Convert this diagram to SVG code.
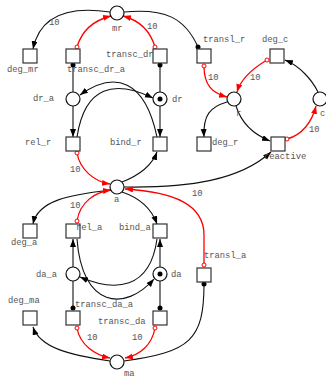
<svg xmlns="http://www.w3.org/2000/svg" width="326" height="378" viewBox="0 0 326 378">
<defs>
<style>
.pl{fill:#fff;stroke:#111;stroke-width:1.2}
.tr{fill:#fff;stroke:#333;stroke-width:1.2}
.tk{fill:#000}
.e{fill:none;stroke:#111;stroke-width:1.1}
.r{fill:none;stroke:#f00;stroke-width:1.3}
.dot{fill:#000}
.oc{fill:#fff;stroke:#f00;stroke-width:1}
text{font-family:"Liberation Mono","DejaVu Sans Mono",monospace;font-size:8.8px;fill:#555}
</style>
<marker id="ab" markerUnits="userSpaceOnUse" markerWidth="9" markerHeight="7" refX="8" refY="3" orient="auto"><path d="M0,0 L8,3 L0,6 z" fill="#000"/></marker>
<marker id="ar" markerUnits="userSpaceOnUse" markerWidth="9" markerHeight="7" refX="8" refY="3" orient="auto"><path d="M0,0 L8,3 L0,6 z" fill="#f00"/></marker>
</defs>
<g id="connectors">
<path class="e" d="M110,12 C70,6 40,15 33,49" marker-end="url(#ab)"/>
<path class="r" d="M77,47 C82,30 95,20 111,16" marker-end="url(#ar)"/>
<path class="r" d="M155,47 C150,30 138,20 123,16" marker-end="url(#ar)"/>
<path class="e" d="M124,12 C165,8 185,18 198,47"/>
<path class="e" d="M73,65 L73,92"/>
<path class="e" d="M160,65 L160,92"/>
<path class="e" d="M73,106 L73,137" marker-end="url(#ab)"/>
<path class="e" d="M160,106 L160,137" marker-end="url(#ab)"/>
<path class="e" d="M77,137 C85,85 115,80 153,98" marker-end="url(#ab)"/>
<path class="e" d="M157,137 C145,80 115,70 80,95" marker-end="url(#ab)"/>
<path class="e" d="M122,182 C140,175 152,165 157,152" marker-end="url(#ab)"/>
<path class="r" d="M77,153 C80,170 95,182 110,184" marker-end="url(#ar)"/>
<path class="e" d="M124,187 C190,188 240,180 271,152" marker-end="url(#ab)"/>
<path class="e" d="M227,102 C210,107 203,115 204,137" marker-end="url(#ab)"/>
<path class="e" d="M236,106 C242,125 255,135 270,141" marker-end="url(#ab)"/>
<path class="r" d="M204,66 C204,85 212,93 227,97" marker-end="url(#ar)"/>
<path class="r" d="M267,60 C250,70 240,82 237,92" marker-end="url(#ar)"/>
<path class="e" d="M318,92 C312,80 300,66 285,60" marker-end="url(#ab)"/>
<path class="r" d="M287,139 C302,135 312,122 316,106" marker-end="url(#ar)"/>
<path class="r" d="M204,265 L204,235 C204,205 175,192 125,189" marker-end="url(#ar)"/>
<path class="e" d="M110,190 C70,195 38,200 33,224" marker-end="url(#ab)"/>
<path class="r" d="M77,221 C80,202 95,192 111,190" marker-end="url(#ar)"/>
<path class="e" d="M122,192 C140,198 152,210 157,224" marker-end="url(#ab)"/>
<path class="e" d="M73,267 L73,239" marker-end="url(#ab)"/>
<path class="e" d="M160,267 L160,239" marker-end="url(#ab)"/>
<path class="e" d="M77,239 C82,308 125,312 154,279" marker-end="url(#ab)"/>
<path class="e" d="M157,239 C150,290 115,292 80,277" marker-end="url(#ab)"/>
<path class="e" d="M73,308 L73,281"/>
<path class="e" d="M160,308 L160,281"/>
<path class="r" d="M77,328 C80,345 95,355 110,358" marker-end="url(#ar)"/>
<path class="r" d="M155,328 C152,345 140,355 125,358" marker-end="url(#ar)"/>
<path class="e" d="M110,361 C70,355 40,348 33,327" marker-end="url(#ab)"/>
<path class="e" d="M124,361 C190,352 204,340 204,284"/>
<circle class="dot" cx="198" cy="47" r="2.5"/>
<circle class="dot" cx="73" cy="65" r="2.5"/>
<circle class="dot" cx="160" cy="65" r="2.5"/>
<circle class="dot" cx="73" cy="308" r="2.5"/>
<circle class="dot" cx="160" cy="308" r="2.5"/>
<circle class="dot" cx="204" cy="284" r="2.5"/>
<circle class="oc" cx="77" cy="47" r="2"/>
<circle class="oc" cx="155" cy="47" r="2"/>
<circle class="oc" cx="204" cy="66" r="2"/>
<circle class="oc" cx="267" cy="60" r="2"/>
<circle class="oc" cx="287" cy="139" r="2"/>
<circle class="oc" cx="77" cy="153" r="2"/>
<circle class="oc" cx="77" cy="221" r="2"/>
<circle class="oc" cx="204" cy="265" r="2"/>
<circle class="oc" cx="77" cy="328" r="2"/>
<circle class="oc" cx="155" cy="328" r="2"/>
<text x="49" y="25">10</text>
<text x="147" y="29">10</text>
<text x="208" y="80">10</text>
<text x="250" y="80">10</text>
<text x="309" y="132">10</text>
<text x="70" y="172">10</text>
<text x="192" y="196">10</text>
<text x="70" y="208">10</text>
<text x="87" y="340">10</text>
<text x="132" y="340">10</text>
</g>
<g id="mr"><circle class="pl" cx="117" cy="13" r="7"/><text x="112" y="31">mr</text></g>
<g id="dr_a"><circle class="pl" cx="73" cy="99" r="7"/><text x="33" y="101">dr_a</text></g>
<g id="dr"><circle class="pl" cx="160" cy="99" r="7"/><circle class="tk" cx="160" cy="99" r="2.5"/><text x="172" y="102">dr</text></g>
<g id="r"><circle class="pl" cx="234" cy="99" r="7"/><text x="236" y="116">r</text></g>
<g id="c"><circle class="pl" cx="320" cy="99" r="7"/><text x="320" y="116">c</text></g>
<g id="a"><circle class="pl" cx="117" cy="187" r="7"/><text x="114" y="202">a</text></g>
<g id="da_a"><circle class="pl" cx="73" cy="274" r="7"/><text x="36" y="277">da_a</text></g>
<g id="da"><circle class="pl" cx="160" cy="274" r="7"/><circle class="tk" cx="160" cy="274" r="2.5"/><text x="171" y="277">da</text></g>
<g id="ma"><circle class="pl" cx="117" cy="362" r="7"/><text x="124" y="376">ma</text></g>
<g id="deg_mr"><rect class="tr" x="23" y="49" width="14" height="14"/><text x="7" y="72">deg_mr</text></g>
<g id="transc_dr_a"><rect class="tr" x="66" y="49" width="14" height="14"/><text x="67" y="72">transc_dr_a</text></g>
<g id="transc_dr"><rect class="tr" x="153" y="49" width="14" height="14"/><text x="106" y="57">transc_dr</text></g>
<g id="transl_r"><rect class="tr" x="197" y="49" width="14" height="14"/><text x="203" y="42">transl_r</text></g>
<g id="deg_c"><rect class="tr" x="270" y="49" width="14" height="14"/><text x="262" y="42">deg_c</text></g>
<g id="rel_r"><rect class="tr" x="66" y="137" width="14" height="14"/><text x="25" y="145">rel_r</text></g>
<g id="bind_r"><rect class="tr" x="153" y="137" width="14" height="14"/><text x="110" y="145">bind_r</text></g>
<g id="deg_r"><rect class="tr" x="197" y="137" width="14" height="14"/><text x="212" y="145">deg_r</text></g>
<g id="reactive"><rect class="tr" x="271" y="137" width="14" height="14"/><text x="264" y="159">reactive</text></g>
<g id="deg_a"><rect class="tr" x="23" y="224" width="14" height="14"/><text x="11" y="245">deg_a</text></g>
<g id="rel_a"><rect class="tr" x="66" y="224" width="14" height="14"/><text x="76" y="230">rel_a</text></g>
<g id="bind_a"><rect class="tr" x="153" y="224" width="14" height="14"/><text x="119" y="230">bind_a</text></g>
<g id="transl_a"><rect class="tr" x="197" y="268" width="14" height="14"/><text x="204" y="258">transl_a</text></g>
<g id="deg_ma"><rect class="tr" x="23" y="311" width="14" height="14"/><text x="8" y="303">deg_ma</text></g>
<g id="transc_da_a"><rect class="tr" x="66" y="311" width="14" height="14"/><text x="75" y="307">transc_da_a</text></g>
<g id="transc_da"><rect class="tr" x="153" y="311" width="14" height="14"/><text x="98" y="324">transc_da</text></g>
</svg>
